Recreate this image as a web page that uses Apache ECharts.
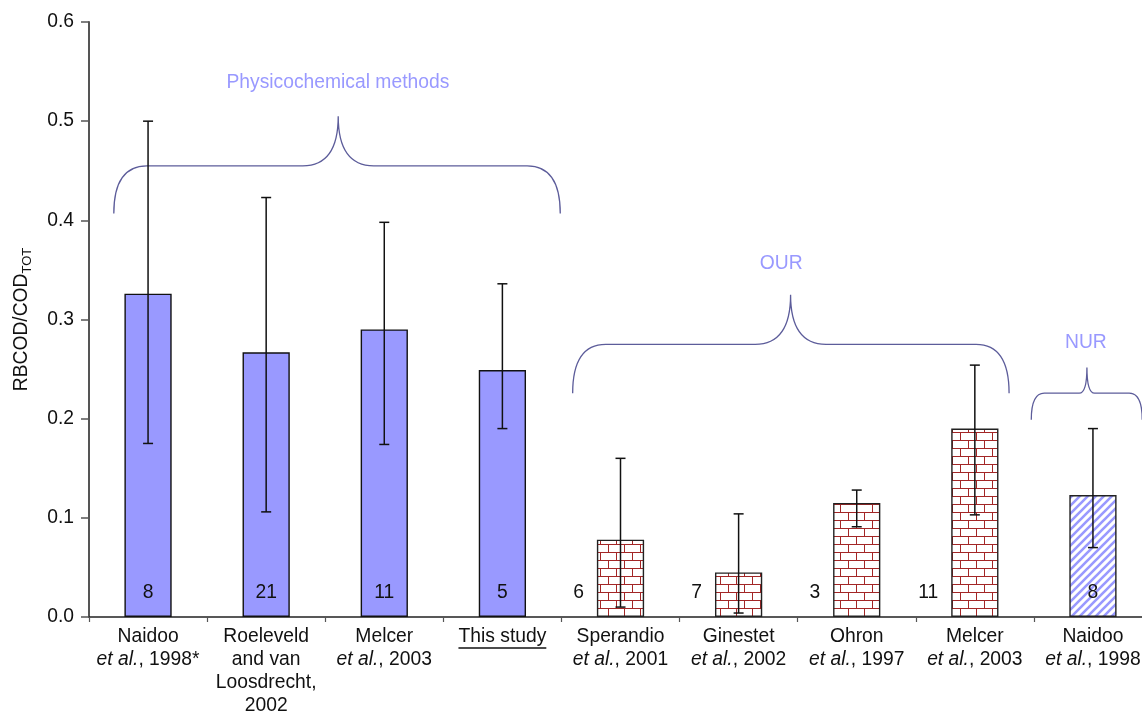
<!DOCTYPE html>
<html>
<head>
<meta charset="utf-8">
<title>RBCOD/COD ratio by method</title>
<script src="https://cdn.jsdelivr.net/npm/echarts@6/dist/echarts.min.js"></script>
<style>
  html, body { margin: 0; padding: 0; background: #fff; }
  #chart { width: 1142px; height: 715px; }
</style>
</head>
<body>
<div id="chart"></div>
<script>
// Study labels (rich text: {i|...} is italic)
const categories = [
  'Naidoo\n{i|et al.}, 1998*',
  'Roeleveld\nand van\nLoosdrecht,\n2002',
  'Melcer\n{i|et al.}, 2003',
  'This study',
  'Sperandio\n{i|et al.}, 2001',
  'Ginestet\n{i|et al.}, 2002',
  'Ohron\n{i|et al.}, 1997',
  'Melcer\n{i|et al.}, 2003',
  'Naidoo\n{i|et al.}, 1998'
];
// Measurement method of each study
const methods = ['phys', 'phys', 'phys', 'phys', 'our', 'our', 'our', 'our', 'nur'];
// Mean RBCOD/COD_TOT ratio
const ratioMean = [0.326, 0.267, 0.290, 0.249, 0.078, 0.045, 0.115, 0.190, 0.123];
// Error bar limits
const ratioLow  = [0.175, 0.106, 0.174, 0.190, 0.010, 0.004, 0.091, 0.103, 0.070];
const ratioHigh = [0.500, 0.423, 0.398, 0.336, 0.160, 0.104, 0.128, 0.254, 0.190];
// Number of samples
const sampleCount = [8, 21, 11, 5, 6, 7, 3, 11, 8];
// Y axis ticks
const yTicks = [0, 0.1, 0.2, 0.3, 0.4, 0.5, 0.6];
// Method group annotations: brace ends, peak, and heights in axis units
const groupNames = ['Physicochemical methods', 'OUR', 'NUR'];
const braceStart = [-0.29, 3.595, 7.478];
const braceEnd   = [3.49, 7.29, 8.417];
const bracePeak  = [1.61, 5.44, 7.949];
const braceFoot  = [0.407, 0.2257, 0.199];
const braceArm   = [0.455, 0.275, 0.2257];
const braceTip   = [0.505, 0.325, 0.2516];
const groupLabelX = [1.607, 5.36, 7.94];
const groupLabelY = [0.539, 0.356, 0.2768];

const FONT = 'Liberation Sans, Arial, Helvetica, sans-serif';
const FS = 19.3;
const BLUE = '#9999ff';
const BRACE = '#5c5c9a';

function brickPattern() {
  const c = document.createElement('canvas');
  c.width = 16; c.height = 16;
  const g = c.getContext('2d');
  g.fillStyle = '#ffffff';
  g.fillRect(0, 0, 16, 16);
  g.strokeStyle = '#a32626';
  g.lineWidth = 1;
  g.beginPath();
  g.moveTo(0, 0.5); g.lineTo(16, 0.5);
  g.moveTo(0, 8.5); g.lineTo(16, 8.5);
  g.moveTo(0.5, 0); g.lineTo(0.5, 8);
  g.moveTo(8.5, 8); g.lineTo(8.5, 16);
  g.stroke();
  return c;
}

function hatchPattern() {
  const s = 8;
  const c = document.createElement('canvas');
  c.width = s; c.height = s;
  const g = c.getContext('2d');
  g.fillStyle = '#ffffff';
  g.fillRect(0, 0, s, s);
  g.strokeStyle = BLUE;
  g.lineWidth = 2.6;
  g.beginPath();
  g.moveTo(-2, s + 2); g.lineTo(s + 2, -2);
  g.moveTo(-2, 2); g.lineTo(2, -2);
  g.moveTo(s - 2, s + 2); g.lineTo(s + 2, s - 2);
  g.stroke();
  return c;
}

const fills = {
  phys: { color: BLUE, borderColor: '#111' },
  our: { color: { image: brickPattern(), repeat: 'repeat' }, borderColor: '#222' },
  nur: { color: { image: hatchPattern(), repeat: 'repeat' }, borderColor: '#222' }
};

const barData = ratioMean.map((v, i) => ({
  value: v,
  itemStyle: { color: fills[methods[i]].color, borderColor: fills[methods[i]].borderColor, borderWidth: 1.4 }
}));

const errData = ratioMean.map((v, i) => [i, ratioLow[i], ratioHigh[i]]);
const countData = sampleCount.map((n, i) => [i, n, methods[i] === 'our' ? 1 : 0]);
const braceData = groupNames.map((name, i) => [
  braceStart[i], braceEnd[i], bracePeak[i], braceFoot[i], braceArm[i], braceTip[i], i
]);
const groupLabelData = groupNames.map((name, i) => [groupLabelX[i], groupLabelY[i], name]);

const chart = echarts.init(document.getElementById('chart'), null, { renderer: 'canvas' });

const option = {
  backgroundColor: '#ffffff',
  animation: false,
  textStyle: { fontFamily: FONT },
  grid: { left: 89, top: 22, width: 1063, height: 595, containLabel: false, outerBoundsMode: 'none' },
  xAxis: [{
    type: 'category',
    data: categories,
    boundaryGap: true,
    axisLine: { lineStyle: { color: '#222', width: 1.5 } },
    axisTick: { show: true, alignWithLabel: false, length: 5, lineStyle: { color: '#555', width: 1.2 } },
    axisLabel: {
      interval: 0,
      margin: 8,
      color: '#111',
      fontSize: FS,
      lineHeight: 23,
      fontFamily: FONT,
      rich: { i: { fontStyle: 'italic', fontSize: FS, lineHeight: 23, color: '#111', fontFamily: FONT } }
    },
    splitLine: { show: false }
  }, {
    type: 'value',
    min: -0.5, max: 8.5,
    show: false
  }],
  yAxis: {
    type: 'value',
    min: yTicks[0],
    max: yTicks[yTicks.length - 1],
    interval: 0.1,
    name: 'RBCOD/COD{sub|TOT}',
    nameLocation: 'middle',
    nameGap: 55,
    nameRotate: 90,
    nameTextStyle: {
      fontSize: FS,
      color: '#111',
      fontFamily: FONT,
      lineHeight: 24,
      rich: { sub: { fontSize: 13, lineHeight: 14, verticalAlign: 'bottom', color: '#111', fontFamily: FONT } }
    },
    axisLine: { show: true, onZero: false, lineStyle: { color: '#555', width: 2 } },
    axisTick: { show: true, inside: false, length: 8, lineStyle: { color: '#555', width: 1.5 } },
    axisLabel: {
      margin: 15,
      color: '#111',
      fontSize: FS,
      fontFamily: FONT,
      formatter: v => v.toFixed(1)
    },
    splitLine: { show: false }
  },
  series: [
    {
      type: 'bar',
      xAxisIndex: 0,
      data: barData,
      barWidth: '40%',
      z: 2
    },
    {
      // error bars
      type: 'custom',
      xAxisIndex: 0,
      data: errData,
      z: 4,
      renderItem(params, api) {
        const lo = api.coord([api.value(0), api.value(1)]);
        const hi = api.coord([api.value(0), api.value(2)]);
        const cap = 5;
        const style = { stroke: '#111', lineWidth: 1.5, fill: null };
        return {
          type: 'group',
          children: [
            { type: 'line', shape: { x1: lo[0], y1: lo[1], x2: hi[0], y2: hi[1] }, style },
            { type: 'line', shape: { x1: lo[0] - cap, y1: lo[1], x2: lo[0] + cap, y2: lo[1] }, style },
            { type: 'line', shape: { x1: hi[0] - cap, y1: hi[1], x2: hi[0] + cap, y2: hi[1] }, style }
          ]
        };
      }
    },
    {
      // sample counts: inside the bar, or beside it for OUR studies
      type: 'custom',
      xAxisIndex: 0,
      data: countData,
      z: 5,
      renderItem(params, api) {
        const p = api.coord([api.value(0), 0.025]);
        const beside = api.value(2) === 1;
        const bw = api.size([1, 0])[0];
        return {
          type: 'text',
          style: {
            text: String(api.value(1)),
            x: beside ? p[0] - bw * 0.31 : p[0],
            y: p[1],
            textAlign: beside ? 'right' : 'center',
            textVerticalAlign: 'middle',
            fontSize: FS,
            fontFamily: FONT,
            fill: '#111'
          }
        };
      }
    },
    {
      // curly braces grouping the methods
      type: 'custom',
      xAxisIndex: 1,
      data: braceData,
      z: 3,
      renderItem(params, api) {
        const x0 = api.value(0), x1 = api.value(1), xp = api.value(2);
        const yF = api.value(3), yA = api.value(4), yT = api.value(5);
        const small = api.value(6) === 2;
        const ce = small ? 0.11 : 0.28;
        const cc = small ? 0.065 : 0.3;
        const P = (x, y) => api.coord([x, y]);
        const a = P(x0, yF), b = P(x0, yA), c = P(x0 + ce, yA);
        const d = P(xp - cc, yA), e = P(xp, yA), f = P(xp, yT);
        const g = P(xp + cc, yA), h = P(x1 - ce, yA), k = P(x1, yA), m = P(x1, yF);
        const path = [
          'M', a[0], a[1], 'Q', b[0], b[1], c[0], c[1],
          'L', d[0], d[1], 'Q', e[0], e[1], f[0], f[1],
          'Q', e[0], e[1], g[0], g[1],
          'L', h[0], h[1], 'Q', k[0], k[1], m[0], m[1]
        ].join(' ');
        return {
          type: 'path',
          shape: { pathData: path },
          style: { stroke: BRACE, lineWidth: 1.3, fill: null }
        };
      }
    },
    {
      // method group names
      type: 'custom',
      xAxisIndex: 1,
      data: groupLabelData,
      z: 3,
      renderItem(params, api) {
        const p = api.coord([api.value(0), api.value(1)]);
        return {
          type: 'text',
          style: {
            text: groupNames[params.dataIndex],
            x: p[0], y: p[1],
            textAlign: 'center',
            textVerticalAlign: 'middle',
            fontSize: FS,
            fontFamily: FONT,
            fill: BLUE
          }
        };
      }
    }
  ]
};

chart.setOption(option);

// Underline the "This study" axis label
(function underlineOwnStudy() {
  const idx = categories.indexOf('This study');
  const cx = chart.convertToPixel({ xAxisIndex: 0 }, idx);
  const y0 = chart.convertToPixel({ yAxisIndex: 0 }, 0);
  const ctx = document.createElement('canvas').getContext('2d');
  ctx.font = FS + 'px ' + FONT;
  const w = ctx.measureText('This study').width;
  chart.setOption({
    graphic: [{
      type: 'line',
      shape: { x1: cx - w / 2, y1: y0 + 31, x2: cx + w / 2, y2: y0 + 31 },
      style: { stroke: '#111', lineWidth: 1.3 }
    }]
  });
})();
</script>
</body>
</html>
